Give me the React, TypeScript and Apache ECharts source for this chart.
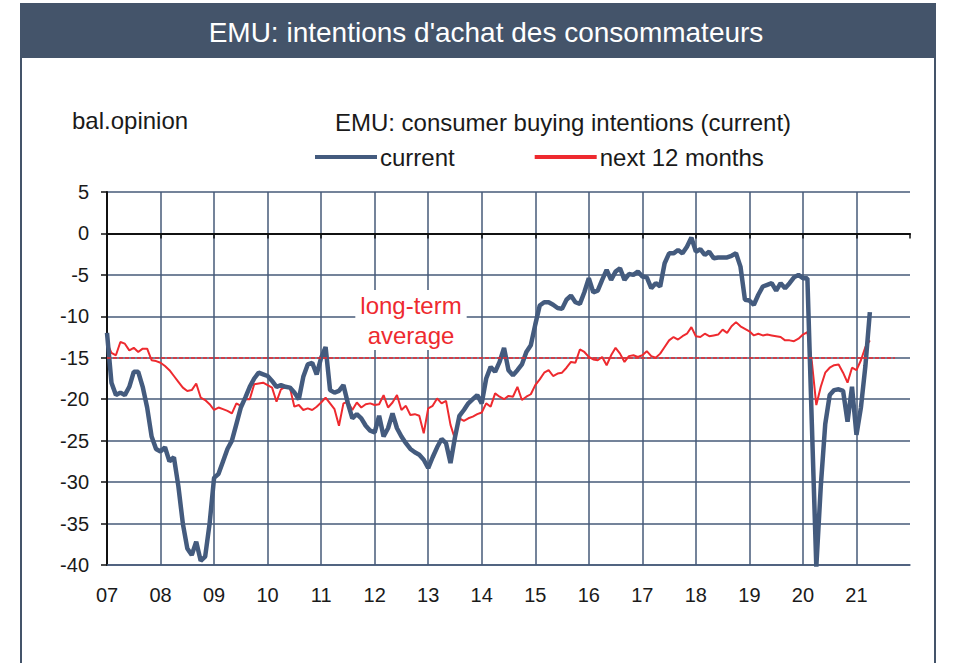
import React, { useEffect, useRef } from "react";
import * as echarts from "echarts";

// Monthly data, Jan 2007 .. Apr 2021
const START_YEAR = 2007;
const currentValues: number[] = [
  // 2007
  -12, -18, -19.5, -19.2, -19.5, -18.5, -16.7, -16.7, -18.5, -21, -24.5, -26,
  // 2008
  -26.3, -25.8, -27.5, -27, -30.5, -35, -38, -38.8, -37.2, -39.5, -39, -35,
  // 2009
  -29.5, -29, -27.5, -26, -25, -23, -21, -19.8, -18.5, -17.5, -16.8, -17,
  // 2010
  -17.2, -17.8, -18.5, -18.3, -18.5, -18.6, -19.2, -20, -17.3, -15.8, -15.6, -17,
  // 2011
  -15, -13.7, -18.9, -19.2, -19, -18.3, -20.5, -22.3, -21.8, -22.3, -23.2, -23.8,
  // 2012
  -24, -22, -24.5, -23.5, -21.7, -23.5, -24.5, -25.3, -26, -26.4, -26.7, -27.3,
  // 2013
  -28.3, -27, -25.8, -24.8, -25.3, -27.7, -24.6, -22, -21.3, -20.5, -20, -19.5,
  // 2014
  -20.5, -17.5, -16.1, -16.7, -15.5, -13.8, -16.5, -17.1, -16.5, -15.8, -14.3, -13.5,
  // 2015
  -11, -8.7, -8.3, -8.3, -8.6, -9, -9.1, -8, -7.5, -8.3, -8.5, -7.1,
  // 2016
  -5.4, -7.1, -6.9, -5.6, -4.4, -5.6, -4.6, -4.2, -5.6, -4.9, -5, -4.6,
  // 2017
  -5.2, -5.3, -6.6, -6, -6.4, -3.6, -2.4, -2.4, -2, -2.4, -1.6, -0.5,
  // 2018
  -2.2, -1.9, -2.6, -2.2, -3, -2.9, -2.9, -2.9, -2.7, -2.4, -4, -8,
  // 2019
  -8.1, -8.6, -7.4, -6.4, -6.2, -6, -6.9, -6, -6.6, -6, -5.3, -5,
  // 2020
  -5.4, -5.4, -23, -40.2, -30.5, -23, -19.5, -18.9, -18.8, -19, -22.7, -18.5,
  // 2021
  -24.3, -21, -16, -9.5,
];

const next12Values: number[] = [
  // 2007
  -13.2, -14.4, -14.7, -13.1, -13.3, -14.1, -13.8, -14.3, -13.9, -13.9, -15.3, -15.4,
  // 2008
  -15.6, -16, -16.5, -17.2, -17.9, -18.6, -19, -18.9, -18.1, -19.8, -20.1, -20.6,
  // 2009
  -21.3, -21, -21.2, -21.4, -21.7, -20.5, -20.8, -20, -20, -18.2, -18.1, -18,
  // 2010
  -18.3, -18.6, -20.3, -18.8, -18.5, -18.6, -20.9, -20.7, -21.3, -21.1, -21.3, -20.9,
  // 2011
  -20.4, -19.8, -20.5, -21.2, -23.2, -20.5, -20.3, -21.3, -20.4, -21, -20.6, -20.5,
  // 2012
  -20.7, -20.6, -19.5, -21, -20.4, -19.5, -21.3, -20.8, -21.9, -21.8, -22, -24.1,
  // 2013
  -21.1, -20.8, -19.9, -20.5, -20.2, -23.1, -24.8, -22.3, -22.6, -22.3, -22.1, -21.8,
  // 2014
  -21.6, -20.5, -20.9, -19.3, -19.7, -20, -19.6, -19.7, -18.5, -20.1, -19.7, -19.4,
  // 2015
  -18.3, -17.6, -16.8, -16.5, -17.2, -16.9, -16.8, -16.2, -15.5, -15.6, -14, -14.3,
  // 2016
  -14.9, -15.2, -15.3, -14.9, -15.9, -14.7, -13.8, -14.5, -15.5, -14.8, -14.7, -14.9,
  // 2017
  -14.7, -14.2, -14.8, -15, -14.5, -13.7, -12.9, -12.5, -12.8, -12.4, -12.1, -11.3,
  // 2018
  -12.4, -12.5, -12.1, -12.4, -12.3, -12.2, -11.6, -12, -11.2, -10.7, -11.2, -11.5,
  // 2019
  -11.8, -12.3, -12.1, -12.3, -12.2, -12.3, -12.4, -12.5, -12.9, -12.9, -13, -12.7,
  // 2020
  -12.2, -11.9, -15.5, -20.7, -18.5, -16.8, -16.2, -15.9, -15.8, -16.8, -18, -16.2,
  // 2021
  -16.5, -15.3, -13.7, -12.9,
];

const yearLabels = ["07", "08", "09", "10", "11", "12", "13", "14", "15", "16", "17", "18", "19", "20", "21"];
const longTermAverage = -15;
const averageLineEnd = 2021.72;
const seriesNames = ["current", "next 12 months"];

const FONT = '"Liberation Sans", Arial, sans-serif';
const SLATE = "#44546a";
const GRID = "#465a78";
const BLUE = "#445b7e";
const RED = "#ee2a2f";

const toPoints = (vals: number[]) => vals.map((v, i) => [START_YEAR + i / 12, v]);

export default function App() {
  const ref = useRef<HTMLDivElement>(null);
  useEffect(() => {
    if (!ref.current) return;
    const chart = echarts.init(ref.current, undefined, { renderer: "svg" });
    chart.setOption({
      animation: false,
      backgroundColor: "#ffffff",
      textStyle: { fontFamily: FONT },
      graphic: [
        { type: "rect", z: 0, shape: { x: 20, y: 3, width: 916, height: 55 }, style: { fill: SLATE } },
        { type: "line", z: 0, shape: { x1: 21, y1: 58, x2: 21, y2: 663 }, style: { stroke: SLATE, lineWidth: 2 } },
        { type: "line", z: 0, shape: { x1: 935, y1: 58, x2: 935, y2: 663 }, style: { stroke: SLATE, lineWidth: 2 } },
        {
          type: "text", z: 10, x: 486, y: 32,
          style: { text: "EMU: intentions d'achat des consommateurs", fill: "#ffffff", font: `28px ${FONT}`, align: "center", verticalAlign: "middle", textAlign: "center", textVerticalAlign: "middle" },
        },
        {
          type: "text", z: 10, x: 72, y: 120,
          style: { text: "bal.opinion", fill: "#1a1a1a", font: `24px ${FONT}`, align: "left", verticalAlign: "middle", textAlign: "left", textVerticalAlign: "middle" },
        },
        {
          type: "text", z: 10, x: 563, y: 122,
          style: { text: "EMU: consumer buying intentions (current)", fill: "#1a1a1a", font: `24px ${FONT}`, align: "center", verticalAlign: "middle", textAlign: "center", textVerticalAlign: "middle" },
        },
        {
          type: "text", z: 10, x: 411, y: 320,
          style: {
            text: "long-term\naverage", fill: RED, font: `24px ${FONT}`, lineHeight: 30,
            align: "center", verticalAlign: "middle", textAlign: "center", textVerticalAlign: "middle",
            backgroundColor: "#ffffff", padding: [0, 5, 0, 5],
          },
        },
      ],
      legend: {
        left: 315,
        top: 145,
        padding: 0,
        icon: "rect",
        itemWidth: 62,
        itemHeight: 4,
        itemGap: 80,
        data: seriesNames,
        textStyle: { fontSize: 24, color: "#1a1a1a", fontFamily: FONT, padding: [0, 0, 0, -2] },
      },
      grid: { left: 107, right: 45, top: 192, bottom: 98, containLabel: false },
      xAxis: [
        {
          type: "value", min: 2007, max: 2022, interval: 1, position: "bottom",
          axisLine: { onZero: false, lineStyle: { color: GRID, width: 1.5 } },
          axisTick: { show: false },
          axisLabel: {
            margin: 20, fontSize: 20, color: "#1a1a1a", fontFamily: FONT,
            formatter: (v: number) => yearLabels[Math.round(v) - START_YEAR] ?? "",
          },
          splitLine: { show: true, showMinLine: false, showMaxLine: false, lineStyle: { color: GRID, width: 1.5 } },
        },
        {
          type: "value", min: 2007, max: 2022, interval: 1, position: "top",
          axisLine: { onZero: true, lineStyle: { color: "#111", width: 2 } },
          axisTick: { show: true, inside: true, length: 5, lineStyle: { color: "#111", width: 1.5 } },
          axisLabel: { show: false },
          splitLine: { show: false },
        },
      ],
      yAxis: {
        type: "value", min: -40, max: 5, interval: 5,
        axisLine: { show: true, onZero: false, lineStyle: { color: "#111", width: 2 } },
        axisTick: { show: true, length: 6, lineStyle: { color: "#111", width: 1.5 } },
        axisLabel: { margin: 18, fontSize: 20, color: "#1a1a1a", fontFamily: FONT },
        splitLine: { show: true, lineStyle: { color: GRID, width: 1.5 } },
      },
      series: [
        {
          name: seriesNames[0], type: "line", data: toPoints(currentValues), symbol: "none", z: 4,
          lineStyle: { color: BLUE, width: 4.5 }, itemStyle: { color: BLUE },
        },
        {
          name: seriesNames[1], type: "line", data: toPoints(next12Values), symbol: "none", z: 3,
          lineStyle: { color: RED, width: 2 }, itemStyle: { color: RED },
          markLine: {
            silent: true, symbol: "none", label: { show: false },
            lineStyle: { color: RED, width: 1.5, type: [4, 2] },
            data: [[{ coord: [START_YEAR, longTermAverage] }, { coord: [averageLineEnd, longTermAverage] }]],
          },
        },
      ],
    });
    return () => chart.dispose();
  }, []);
  return <div ref={ref} style={{ position: "fixed", left: 0, top: 0, width: 955, height: 663 }} />;
}
